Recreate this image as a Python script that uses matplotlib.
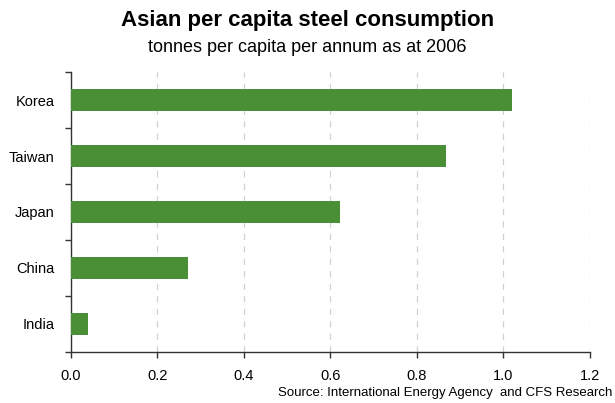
import matplotlib.pyplot as plt
import numpy as np

plt.rcParams["font.family"] = ["Liberation Sans", "DejaVu Sans"]

countries = ["Korea", "Taiwan", "Japan", "China", "India"]
consumption = [1.02, 0.868, 0.622, 0.27, 0.039]
x_ticks = [0.0, 0.2, 0.4, 0.6, 0.8, 1.0, 1.2]

fig = plt.figure(figsize=(6.15, 4.03), dpi=100)
ax = fig.add_axes([0.1154, 0.1266, 0.8439, 0.6947])

pos = np.arange(len(countries))
ax.barh(pos, consumption, height=0.39, color="#4a8f36", zorder=3)

ax.set_xlim(0, 1.2)
ax.set_ylim(len(countries) - 0.5, -0.5)
ax.set_xticks(x_ticks)
ax.set_xticklabels([f"{v:.1f}" for v in x_ticks], fontsize=10.5)
ax.set_yticks(pos)
ax.set_yticklabels(countries, fontsize=10.5)
ax.tick_params(axis="y", length=0, pad=12)
# small ticks between the country rows
ax.set_yticks(np.arange(-0.5, len(countries)), minor=True)
ax.tick_params(axis="y", which="minor", length=4, width=1, color="#333333")
ax.tick_params(axis="x", length=4, width=1, color="#333333", pad=8)

ax.xaxis.grid(True, linestyle=(0, (5, 5)), color="#d0d0d0", linewidth=0.9, zorder=0)
ax.set_axisbelow(True)

for side in ("top", "right"):
    ax.spines[side].set_visible(False)
for side in ("left", "bottom"):
    ax.spines[side].set_color("#333333")
    ax.spines[side].set_linewidth(1)

fig.text(0.5, 0.948, "Asian per capita steel consumption", ha="center", va="center",
         fontsize=16, fontweight="bold")
fig.text(0.5, 0.883, "tonnes per capita per annum as at 2006", ha="center", va="center",
         fontsize=13)
fig.text(0.995, 0.026, "Source: International Energy Agency  and CFS Research", ha="right",
         va="center", fontsize=9.5)

fig.savefig("out.png", dpi=100)
